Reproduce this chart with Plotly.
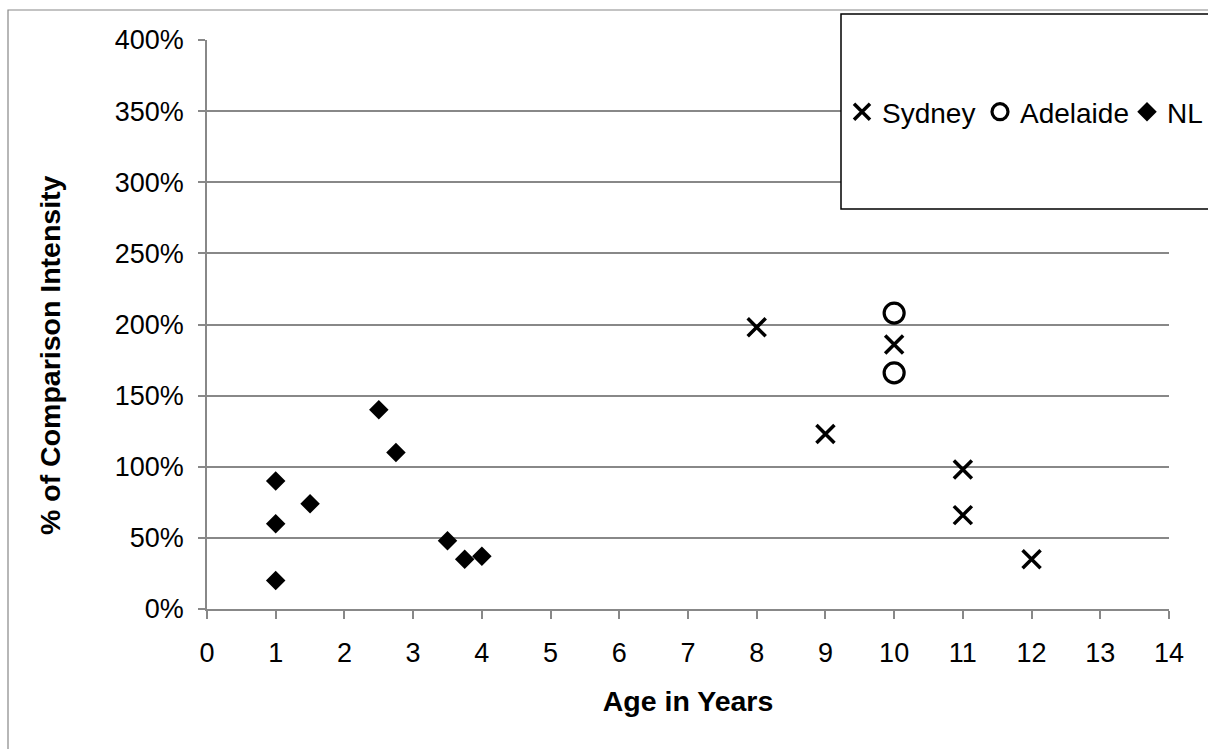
import plotly.graph_objects as go

# Data
sydney_age = [8, 9, 10, 11, 11, 12]
sydney_pct = [198, 123, 186, 98, 66, 35]
adelaide_age = [10, 10]
adelaide_pct = [208, 166]
nl_age = [1, 1, 1, 1.5, 2.5, 2.75, 3.5, 3.75, 4]
nl_pct = [90, 60, 20, 74, 140, 110, 48, 35, 37]

x_ticks = list(range(0, 15))
y_ticks = list(range(0, 401, 50))

FONT = "Liberation Sans, Arial, sans-serif"
GRID = "#888888"

fig = go.Figure()
fig.add_trace(go.Scatter(
    x=sydney_age, y=sydney_pct, mode="markers", name="Sydney",
    legendwidth=93,
    marker=dict(symbol="x-thin-open", size=18, color="black",
                line=dict(color="black", width=3.5)),
))
fig.add_trace(go.Scatter(
    x=adelaide_age, y=adelaide_pct, mode="markers", name="Adelaide",
    legendwidth=102,
    marker=dict(symbol="circle-open", size=20, color="black",
                line=dict(color="black", width=3.2)),
))
fig.add_trace(go.Scatter(
    x=nl_age, y=nl_pct, mode="markers", name="NL",
    marker=dict(symbol="diamond", size=15, color="black",
                line=dict(width=0)),
))

W, H = 1208, 749
L, R, T, B = 207, 39, 40, 140
pw, ph = W - L - R, H - T - B

def px(xp):
    return (xp - L) / pw

def py(yp):
    return (H - B - yp) / ph

shapes = [
    # outer chart border (cut off at right/bottom)
    dict(type="rect", xref="paper", yref="paper",
         x0=px(8), x1=px(1260), y0=py(800), y1=py(10),
         line=dict(color="#888888", width=1.2), layer="below"),
    # legend box
    dict(type="rect", xref="paper", yref="paper",
         x0=px(841), x1=px(1260), y0=py(209), y1=py(14),
         line=dict(color="black", width=1.5), fillcolor="white", layer="above"),
]

fig.update_layout(
    width=W, height=H,
    margin=dict(l=L, r=R, t=T, b=B, autoexpand=False),
    paper_bgcolor="white", plot_bgcolor="white",
    font=dict(family=FONT, size=27, color="black"),
    showlegend=True,
    legend=dict(orientation="h", x=px(842), y=py(112), xanchor="left",
                yanchor="middle", bgcolor="rgba(0,0,0,0)",
                font=dict(family=FONT, size=28, color="black"),
                itemwidth=30, tracegroupgap=0),
    shapes=shapes,
    annotations=[dict(
        text="<b>% of Comparison Intensity</b>", textangle=-90,
        xref="paper", yref="paper", x=px(50), y=py(355),
        xanchor="center", yanchor="middle", showarrow=False,
        font=dict(family=FONT, size=28.5, color="black"),
    )],
    xaxis=dict(
        range=[0, 14], tickmode="array", tickvals=x_ticks,
        ticks="outside", ticklen=8, tickwidth=1.5, tickcolor=GRID,
        showline=True, linecolor=GRID, linewidth=1.5,
        showgrid=False, zeroline=False,
        tickfont=dict(family=FONT, size=27),
        ticklabelstandoff=11,
        title=dict(text="<b>Age in Years</b>", font=dict(family=FONT, size=28.5),
                   standoff=24),
    ),
    yaxis=dict(
        range=[0, 400], tickmode="array", tickvals=y_ticks,
        ticktext=[f"{v}%" for v in y_ticks],
        ticks="outside", ticklen=7, tickwidth=1.5, tickcolor=GRID,
        showline=True, linecolor=GRID, linewidth=1.5,
        showgrid=True, gridcolor=GRID, gridwidth=1.5, zeroline=False,
        tickfont=dict(family=FONT, size=27),
        ticklabelstandoff=9,
    ),
)

fig.write_html("out.html", config={"displayModeBar": False},
               post_script="document.body.style.margin='0';")
